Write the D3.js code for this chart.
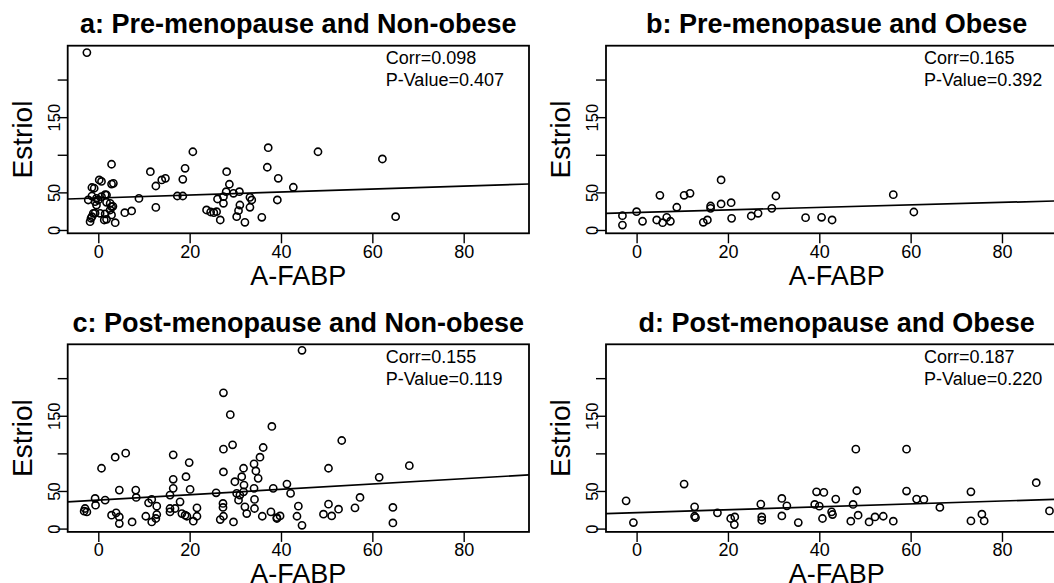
<!DOCTYPE html>
<html>
<head>
<meta charset="utf-8">
<script src="https://cdn.jsdelivr.net/npm/d3@7"></script>
<style>
  html, body { margin: 0; padding: 0; background: #fff; }
  svg { display: block; }
  text { font-family: "Liberation Sans", Arial, sans-serif; fill: #000; }
</style>
</head>
<body>
<svg id="chart" width="1054" height="583"></svg>
<script>
// ---------- data ----------
const panelTitles = [
  "a: Pre-menopause and Non-obese",
  "b: Pre-menopasue and Obese",
  "c: Post-menopause and Non-obese",
  "d: Post-menopause and Obese"
];
const corrLabels = ["Corr=0.098", "Corr=0.165", "Corr=0.155", "Corr=0.187"];
const pLabels = ["P-Value=0.407", "P-Value=0.392", "P-Value=0.119", "P-Value=0.220"];
const xAxisTitle = "A-FABP";
const yAxisTitle = "Estriol";
const xTicks = [0, 20, 40, 60, 80];
const xTickLabels = ["0", "20", "40", "60", "80"];
const yTicks = [0, 50, 100, 150, 200];
const yTickLabels = ["0", "50", "", "150", ""];
const xLimits = [-6.7, 94.3];
const yLimits = [-4.4, 245];

// fitted lines (intercept, slope)
const fitIntercepts = [42.5, 23.3, 38.0, 21.3];
const fitSlopes = [0.198, 0.167, 0.354, 0.192];

// panel a: pre-menopause, non-obese  [A-FABP, Estriol]
const pointsA = [
  [-2.5,235.8],[2.9,87.4],[0.2,66.5],[0.7,64.5],[-1.4,56.5],[-0.9,55.5],[2.9,61],[3.3,62],
  [1.5,47],[0.7,44.3],[-2.2,39.9],[-1.4,45],[-0.4,42],[1.8,46.5],
  [-0.7,37.6],[-0.4,33.2],[0,39.9],[2.6,35.5],[2.9,31],[2.6,26.6],[1.8,36.8],[3.2,31.5],
  [-1.1,22.2],[0.4,22.2],[1.5,21.3],[-0.7,22.5],
  [-1.6,15.6],[-1.8,11],[1.3,13.3],[1.8,14.2],[2.9,20],[3.7,9.7],[-1.4,17.7],
  [5.8,23],[7.3,25.3],[8.9,42],[11.4,77.5],[12.6,58.5],[12.6,30],[13.9,66.5],[14.7,68.7],
  [17.3,45.2],[18.5,45.2],[18.5,67.4],[19.0,82],[20.7,104],
  [23.7,26.6],[24.6,23.9],[25.3,23],[25.9,24.3],[26.7,13.3],[26.1,41.2],[27.4,44.3],[27.4,35.5],
  [28.0,50.9],[28.1,77.5],[28.7,60.8],[29.6,48.8],[30.9,50.9],
  [31.0,33.2],[30.7,25.7],[30.3,17.7],[32.1,10.2],[33.2,43.4],[33.6,39.9],[33.2,30.2],[35.8,16.9],
  [37.2,109.4],[37.0,83.4],[39.4,68.7],[39.2,39.9],[42.7,56.8],[48.1,104],[62.2,94.4],[65.1,17.7]
];
// panel b: pre-menopause, obese
const pointsB = [
  [-3.1,19],[-3.1,6.6],[0,24.3],[1.3,11.6],[5.1,46.1],[4.4,13.3],[5.7,9.7],[6.6,16.9],[7.4,11.6],
  [8.8,30.2],[10.4,46.1],[11.7,48.8],[14.6,10.2],[15.5,13.3],[16.2,31.9],[16.2,28.8],[18.5,66.5],
  [18.5,34.6],[20.7,36.3],[20.8,15.5],[25.1,18.6],[26.6,22.2],[29.6,28.8],[30.5,45.2],[37.0,16.4],
  [40.5,16.9],[42.8,13.3],[56.2,47],[60.7,23.9]
];
// panel c: post-menopause, non-obese
const pointsC = [
  [-2.9,26.7],[-2.5,22.2],[-3.1,23.1],[-0.7,40.1],[-0.6,31.1],[1.5,37.8],[0.7,80.2],[3.7,94.9],[6.0,100.3],[4.6,51.2],
  [2.9,17.8],[3.9,20.9],[4.6,15.5],[4.6,6.7],[7.4,8.8],[8.2,51.2],[8.3,41.4],[10.4,16.4],[11.0,34.2],[11.7,38.8],
  [12.8,29.8],[11.7,8.8],[12.8,18.7],[12.6,13.4],
  [15.7,26.7],[15.7,22.2],[16.8,26.7],[15.7,44.5],[16.4,98],[16.4,65.5],[16.4,53.5],[17.9,35.6],[19.2,69],[19.9,87.7],
  [20.1,52.1],[18.3,20],[19.0,17.8],[19.4,16.4],[20.8,9.8],[21.6,16.4],[21.6,27.5],
  [25.8,47.6],[27.4,180.5],[28.9,151.5],[29.4,111.4],[27.4,105.6],[27.4,75.3],[27.3,33.4],[27.3,28.1],[27.4,16.4],
  [26.7,12.0],[29.6,8.8],
  [29.9,62.3],[31.4,69],[31.8,80.2],[30.3,46.8],[31.0,44.5],[31.8,48.9],[31.9,57.9],[30.7,37.8],[32.1,28.9],[32.5,20],
  [34.1,86],[34.5,76.6],[35.0,66.8],[35.4,94.9],[36.1,107.8],[34.1,53.5],[34.2,38.8],[34.2,26.7],[35.9,16.4],
  [37.8,22.2],[38.0,135.8],[38.3,53.5],[39.1,13.4],[39.8,16.8],[39.1,14.7],
  [44.6,237],[53.3,117.1],[50.4,80.2],[68.1,83.7],[61.5,68.2],[41.3,59.2],[42.1,46.8],[57.3,41.4],[56.2,27.5],
  [50.4,32.5],[52.6,25.8],[51.1,16.8],[49.3,19.1],[43.8,29.8],[43.5,16.4],[44.6,4.4],[64.5,28.1],[64.5,7.5]
];
// panel d: post-menopause, obese
const pointsD = [
  [-2.3,36.9],[-0.7,8.0],[10.4,59.2],[12.7,28.9],[12.7,16.4],[12.9,14.7],[17.7,20.9],
  [20.6,13.4],[21.5,15.5],[21.4,5.3],[27.2,32.5],[27.4,15.5],[27.4,11.1],
  [31.8,40.1],[32.9,30.2],[31.8,16.8],[35.4,8.0],[39.4,48.9],[41.0,48.1],[39.0,32.1],[40.0,29.8],[40.7,13.4],
  [42.7,22.2],[42.9,18.7],[43.6,39.2],[46.9,9.8],[47.4,32.1],[48.0,105.6],[48.2,50.3],[48.5,17.8],
  [50.9,8.8],[52.2,15.5],[54.0,16.4],[56.2,9.8],[59.1,105.6],[59.1,49.9],[61.3,39.2],[62.9,38.8],
  [66.4,28.1],[73.2,48.9],[73.2,10.2],[75.6,19.1],[76.1,10.2],[87.5,61.0],[90.4,23.5]
];
const panelPoints = [pointsA, pointsB, pointsC, pointsD];

// ---------- layout ----------
const plotW = 461.3, plotH = 187.6;
const panelOrigins = [[67.7, 45.7], [606, 45.7], [67.7, 344.3], [606, 344.3]];

const svg = d3.select("#chart");
const x = d3.scaleLinear().domain(xLimits).range([0, plotW]);
const y = d3.scaleLinear().domain(yLimits).range([plotH, 0]);

panelTitles.forEach((title, i) => {
  const [ox, oy] = panelOrigins[i];
  const g = svg.append("g").attr("transform", `translate(${ox},${oy})`);

  g.append("clipPath").attr("id", "clip" + i)
    .append("rect").attr("width", plotW).attr("height", plotH);

  // x axis
  const xa = g.append("g").attr("transform", `translate(0,${plotH})`)
    .call(d3.axisBottom(x).tickValues(xTicks)
      .tickFormat((d, k) => xTickLabels[k]).tickSize(10).tickPadding(1.5));
  xa.select(".domain").remove();
  xa.selectAll("line").attr("stroke", "#000").attr("stroke-width", 1.4);
  xa.selectAll("text").attr("font-size", 18).attr("font-family", "Liberation Sans, Arial, sans-serif").attr("fill", "#000");

  // y axis
  const ya = g.append("g")
    .call(d3.axisLeft(y).tickValues(yTicks)
      .tickFormat((d, k) => yTickLabels[k]).tickSize(10));
  ya.select(".domain").remove();
  ya.selectAll("line").attr("stroke", "#000").attr("stroke-width", 1.4);
  ya.selectAll("text")
    .attr("font-size", 16.5).attr("font-family", "Liberation Sans, Arial, sans-serif").attr("fill", "#000")
    .attr("transform", "rotate(-90)")
    .attr("text-anchor", "middle")
    .attr("x", 0).attr("y", -8).attr("dy", 0);

  // fitted line
  const b0 = fitIntercepts[i], b1 = fitSlopes[i];
  g.append("line")
    .attr("clip-path", `url(#clip${i})`)
    .attr("x1", x(xLimits[0])).attr("y1", y(b0 + b1 * xLimits[0]))
    .attr("x2", x(xLimits[1])).attr("y2", y(b0 + b1 * xLimits[1]))
    .attr("stroke", "#000").attr("stroke-width", 1.7);

  // points
  g.append("g").attr("clip-path", `url(#clip${i})`)
    .selectAll("circle").data(panelPoints[i]).join("circle")
    .attr("cx", d => x(d[0])).attr("cy", d => y(d[1]))
    .attr("r", 3.6).attr("fill", "none").attr("stroke", "#000").attr("stroke-width", 1.6);

  // box
  g.append("rect").attr("width", plotW).attr("height", plotH)
    .attr("fill", "none").attr("stroke", "#000").attr("stroke-width", 1.8);

  // annotations
  g.append("text").attr("x", 318).attr("y", 18.3).attr("font-size", 18).text(corrLabels[i]);
  g.append("text").attr("x", 318).attr("y", 40.3).attr("font-size", 18).text(pLabels[i]);

  // title
  g.append("text").attr("x", plotW / 2).attr("y", -12.3)
    .attr("text-anchor", "middle").attr("font-size", 27).attr("font-weight", "bold")
    .text(title);

  // axis titles
  g.append("text").attr("x", plotW / 2).attr("y", plotH + 51.5)
    .attr("text-anchor", "middle").attr("font-size", 27).text(xAxisTitle);
  g.append("text")
    .attr("transform", `translate(-36,${plotH / 2}) rotate(-90)`)
    .attr("text-anchor", "middle").attr("font-size", 28).text(yAxisTitle);
});
</script>
</body>
</html>
